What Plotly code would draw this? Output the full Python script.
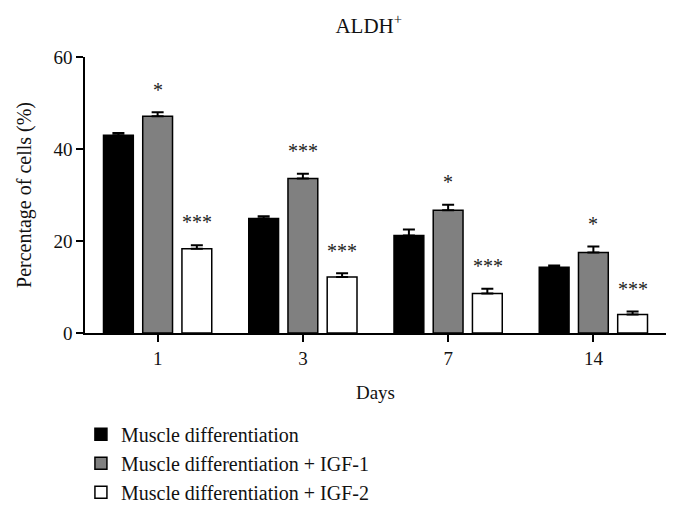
import plotly.graph_objects as go

days = ["1", "3", "7", "14"]
md = [43.0, 24.9, 21.2, 14.3]
md_err = [0.5, 0.5, 1.3, 0.4]
igf1 = [47.1, 33.6, 26.7, 17.5]
igf1_err = [0.9, 1.0, 1.2, 1.3]
igf2 = [18.3, 12.2, 8.6, 4.0]
igf2_err = [0.8, 0.8, 1.0, 0.7]
igf1_sig = ["*", "***", "*", "*"]
igf2_sig = ["***", "***", "***", "***"]

names = ["Muscle differentiation",
         "Muscle differentiation + IGF-1",
         "Muscle differentiation + IGF-2"]
colors = ["#000000", "#808080", "#ffffff"]

FONT = "Liberation Serif, Times New Roman, serif"

fig = go.Figure()
for i, (vals, errs) in enumerate([(md, md_err), (igf1, igf1_err), (igf2, igf2_err)]):
    fig.add_trace(go.Bar(
        x=days, y=vals, name=names[i],
        marker=dict(color=colors[i], line=dict(color="#000000", width=1.5)),
        error_y=dict(type="data", array=errs, arrayminus=[0] * len(errs),
                     symmetric=False, color="#000000", thickness=2, width=6),
        legendgroup=str(i),
    ))

slot_px = 39.4
for sigs, vals, errs, shift in [(igf1_sig, igf1, igf1_err, 0.0),
                                (igf2_sig, igf2, igf2_err, slot_px)]:
    for idx, (s, v, e) in enumerate(zip(sigs, vals, errs)):
        fig.add_annotation(x=idx, y=v + e + 2.1, text=s, showarrow=False,
                           xshift=shift, yanchor="bottom",
                           font=dict(family=FONT, size=20, color="#222222"))

fig.update_layout(
    width=673, height=505,
    margin=dict(l=77, r=15, t=49, b=180, autoexpand=False),
    paper_bgcolor="white", plot_bgcolor="white",
    barmode="group", bargap=0.19, bargroupgap=0.24,
    font=dict(family=FONT, size=19, color="#111111"),
    title=dict(text="ALDH<sup>+</sup>", x=0.536, xanchor="center",
               y=0.966, yanchor="middle", font=dict(family=FONT, size=21)),
    showlegend=True,
    legend=dict(x=-0.007, xanchor="left", y=-0.296, yanchor="top",
                font=dict(family=FONT, size=20), tracegroupgap=0,
                bgcolor="rgba(0,0,0,0)"),
    xaxis=dict(type="category", automargin=False, range=[-0.5, 3.5],
               showline=True, linecolor="#000000", linewidth=1.5,
               ticks="outside", ticklen=7, tickwidth=1.5, tickcolor="#000000",
               title=dict(text="Days", standoff=18, font=dict(size=19)),
               showgrid=False, zeroline=False),
    yaxis=dict(range=[0, 60], tickvals=[0, 20, 40, 60], automargin=False,
               showline=True, linecolor="#000000", linewidth=1.5,
               ticks="outside", ticklen=7, tickwidth=1.5, tickcolor="#000000",
               title=dict(text="Percentage of cells (%)", standoff=16, font=dict(size=20)),
               showgrid=False, zeroline=False),
)

fig.write_html("out.html")
